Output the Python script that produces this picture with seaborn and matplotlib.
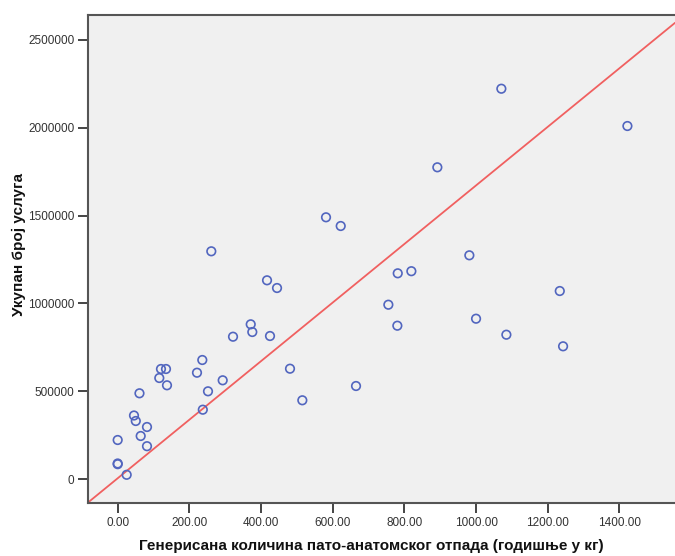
import matplotlib

matplotlib.use("Agg")
import matplotlib.pyplot as plt
import numpy as np
import pandas as pd
import seaborn as sns

# generated pathology waste (kg / year) vs total number of services
waste_kg = [
    261.2, 581.3, 622.3, 416.7, 444.6, 371.2, 375.6, 321.8, 425.0, 236.1,
    120.8, 134.8, 480.8, 221.3, 116.1, 293.0, 137.6, 60.8, 252.0, 665.0,
    515.2, 237.5, 45.5, 50.5, 81.8, 64.2, 81.8, 0.0, 0.0, 0.0,
    25.1, 1070.5, 1422.2, 891.9, 981.2, 781.4, 819.4, 1233.5, 755.2, 999.9,
    780.3, 1084.5, 1242.7,
]
services = [
    1296900, 1490300, 1440800, 1131900, 1088100, 881600, 837800, 811100, 815100, 678600,
    627400, 627400, 629100, 606300, 576200, 563100, 534700, 489200, 500500, 530700,
    449400, 395900, 362900, 331600, 297500, 246300, 188300, 223500, 89900, 86000,
    25600, 2221700, 2009600, 1774700, 1274100, 1171700, 1183700, 1071000, 993100, 913500,
    873700, 822500, 756500,
]

# fit line
fit_intercept = 5800
fit_slope = 1666

x_ticks = [0, 200, 400, 600, 800, 1000, 1200, 1400]
y_ticks = [0, 500000, 1000000, 1500000, 2000000, 2500000]

x_label = "Генерисана количина пато-анатомског отпада (годишње у кг)"
y_label = "Укупан број услуга"


def main():
    df = pd.DataFrame({"waste": waste_kg, "services": services})

    sns.set_style("white")
    plt.rcParams["font.family"] = ["Liberation Sans", "DejaVu Sans"]

    fig = plt.figure(figsize=(6.75, 5.56), dpi=100)
    ax = fig.add_axes([0.1308, 0.0948, 0.8692, 0.8782])
    ax.set_facecolor("#f0f0f0")

    ax.axline((0, fit_intercept), slope=fit_slope, color="#f06060", linewidth=1.3, zorder=2)
    sns.scatterplot(
        data=df,
        x="waste",
        y="services",
        ax=ax,
        marker="o",
        s=38,
        facecolor="none",
        edgecolor="#5266bf",
        linewidth=1.2,
        zorder=3,
    )

    ax.set_xlim(-82, 1555)
    ax.set_ylim(-136500, 2641000)
    ax.set_xticks(x_ticks)
    ax.set_xticklabels([f"{t:.2f}" for t in x_ticks])
    ax.set_yticks(y_ticks)
    ax.set_yticklabels([str(t) for t in y_ticks])

    ax.tick_params(axis="both", direction="out", length=7, width=1.4, color="#444444",
                   labelsize=8.5, labelcolor="#333333", pad=3)
    ax.tick_params(axis="x", bottom=True)
    ax.tick_params(axis="y", left=True)

    for side in ["left", "bottom", "top"]:
        ax.spines[side].set_color("#555555")
        ax.spines[side].set_linewidth(1.5)
    ax.spines["right"].set_visible(False)

    ax.set_xlabel(x_label, fontsize=11, fontweight="bold", color="#111111")
    ax.set_ylabel(y_label, fontsize=11, fontweight="bold", color="#111111")
    ax.xaxis.set_label_coords(0.483, -0.074)
    ax.yaxis.set_label_coords(-0.106, 0.529)

    fig.savefig("out.png", dpi=100)
    plt.close(fig)


if __name__ == "__main__":
    main()
